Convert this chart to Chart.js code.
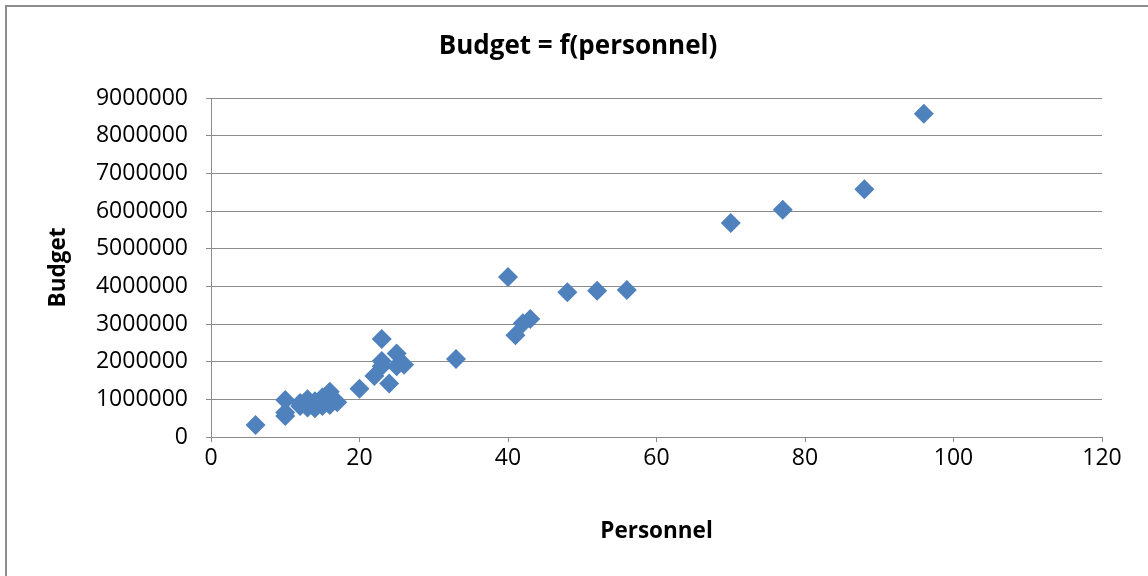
<!DOCTYPE html>
<html>
<head>
<meta charset="utf-8">
<script src="https://cdn.jsdelivr.net/npm/chart.js@4/dist/chart.umd.min.js"></script>
<style>
  body { margin: 0; background: #fff; overflow: hidden; }
  #wrap { position: relative; width: 1148px; height: 576px; }
  #frame { position: absolute; left: 5px; top: 5px; width: 1200px; height: 640px; border: 2px solid #8c8c8c; box-sizing: border-box; }
  canvas { position: absolute; left: 0; top: 0; }
</style>
</head>
<body>
<div id="wrap">
  <div id="frame"></div>
  <canvas id="scatter" width="1148" height="576"></canvas>
</div>
<script>
const personnel = [6, 10, 10, 10, 12, 12, 13, 13, 14, 14, 15, 15, 15, 16, 16, 16, 17,
  20, 22, 23, 23, 23, 24, 25, 25, 26, 33, 40, 41, 42, 43, 48, 52, 56, 70, 77, 88, 96];
const budget = [320000, 980000, 650000, 560000, 820000, 900000, 1000000, 780000, 950000, 760000,
  1050000, 820000, 900000, 1200000, 950000, 850000, 920000,
  1280000, 1620000, 2600000, 2020000, 1880000, 1420000, 2220000, 1880000, 1920000,
  2070000, 4250000, 2700000, 3020000, 3130000, 3840000, 3880000, 3900000,
  5680000, 6030000, 6580000, 8580000];
const chartTitle = 'Budget = f(personnel)';
const xTitle = 'Personnel';
const yTitle = 'Budget';

const points = personnel.map((p, i) => ({ x: p, y: budget[i] }));
const font = "'Open Sans', sans-serif";

const titlePlugin = {
  id: 'titleText',
  afterDraw(chart) {
    const ctx = chart.ctx;
    ctx.save();
    ctx.font = "bold 26px " + font;
    ctx.fillStyle = '#000';
    ctx.textAlign = 'center';
    ctx.textBaseline = 'middle';
    ctx.fillText(chartTitle, 578, 47);
    ctx.restore();
  }
};

new Chart(document.getElementById('scatter'), {
  type: 'scatter',
  data: {
    datasets: [{
      data: points,
      pointStyle: 'rectRot',
      pointRadius: 10,
      pointHoverRadius: 10,
      backgroundColor: '#4f81bd',
      borderColor: '#4f81bd',
      borderWidth: 0
    }]
  },
  plugins: [titlePlugin],
  options: {
    responsive: false,
    animation: false,
    layout: { padding: { top: 98, right: 46, left: 0, bottom: 0 } },
    plugins: { legend: { display: false }, tooltip: { enabled: false } },
    scales: {
      x: {
        type: 'linear',
        min: 0, max: 120,
        afterFit(scale) { scale.height = 139; },
        ticks: { stepSize: 20, color: '#000', padding: 3, font: { family: font, size: 23 },
          callback: v => String(v) },
        grid: { display: true, drawOnChartArea: false, drawTicks: true, tickLength: 5, color: '#8c8c8c' },
        border: { color: '#8c8c8c', width: 1 },
        title: { display: true, text: xTitle, color: '#000', font: { family: font, size: 22.5, weight: 'bold' }, padding: { bottom: 31 } }
      },
      y: {
        min: 0, max: 9000000,
        afterFit(scale) { scale.width = 211; },
        ticks: { stepSize: 1000000, color: '#000', padding: 18, font: { family: font, size: 23 },
          callback: v => String(v) },
        grid: { color: '#8c8c8c', tickLength: 5 },
        border: { color: '#8c8c8c', width: 1 },
        title: { display: true, text: yTitle, color: '#000', font: { family: font, size: 22.5, weight: 'bold' }, padding: { top: 45 } }
      }
    }
  }
});
</script>
</body>
</html>
